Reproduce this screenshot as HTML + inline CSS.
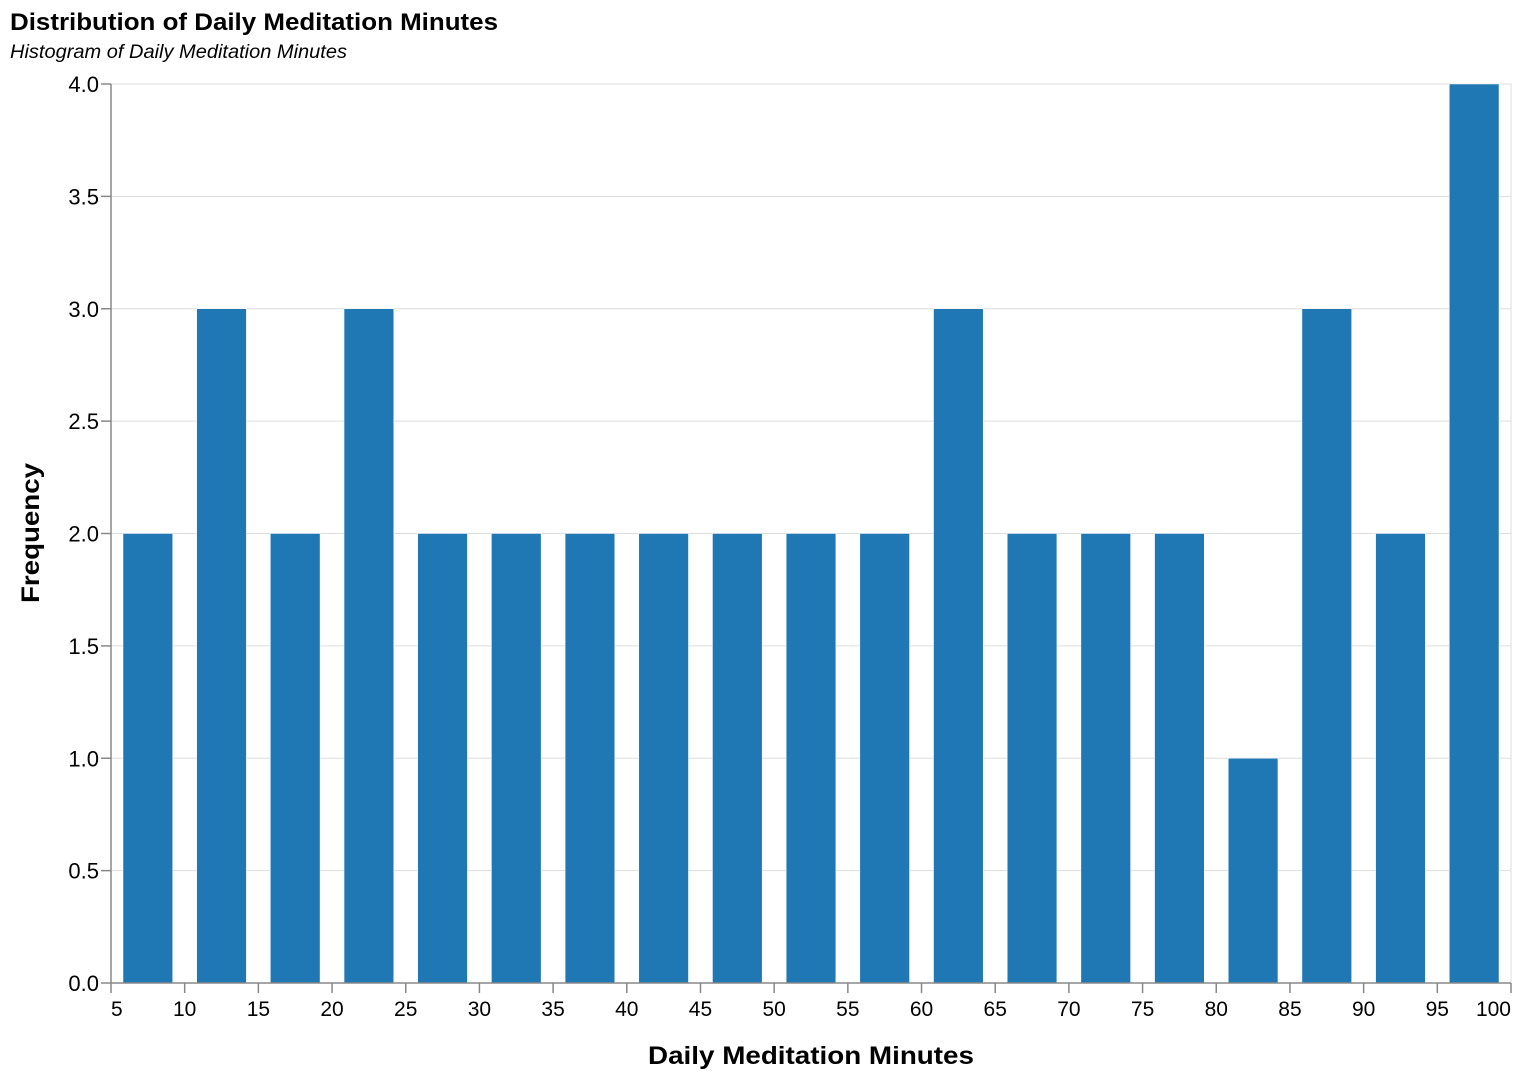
<!DOCTYPE html>
<html><head><meta charset="utf-8"><style>
body{margin:0;background:#fff}
svg text{font-family:"Liberation Sans",Arial,sans-serif}
</style></head><body>
<svg id="chart" width="1522" height="1080">
<text x="10" y="30" font-size="24" font-weight="bold" fill="#000" textLength="488" lengthAdjust="spacingAndGlyphs">Distribution of Daily Meditation Minutes</text>
<text x="10" y="58" font-size="19" font-style="italic" fill="#000" textLength="337" lengthAdjust="spacingAndGlyphs">Histogram of Daily Meditation Minutes</text>
<g id="grid"></g>
<g id="bars"></g>
<g id="axes"></g>
<text transform="translate(39,533) rotate(-90)" text-anchor="middle" font-size="25" font-weight="bold" textLength="140" lengthAdjust="spacingAndGlyphs">Frequency</text>
<text x="811" y="1064" text-anchor="middle" font-size="25" font-weight="bold" textLength="326" lengthAdjust="spacingAndGlyphs">Daily Meditation Minutes</text>
</svg>
<script>
const binStarts=[5,10,15,20,25,30,35,40,45,50,55,60,65,70,75,80,85,90,95];
const counts=[2,3,2,3,2,2,2,2,2,2,2,3,2,2,2,1,3,2,4];
const xTicks=[5,10,15,20,25,30,35,40,45,50,55,60,65,70,75,80,85,90,95,100];
const yTicks=[0,0.5,1,1.5,2,2.5,3,3.5,4];
const binWidth=5;
const X0=111,X1=1511,Y0=983,Y1=84;
const xs=v=>X0+(v-5)/(100-5)*(X1-X0);
const ys=v=>Y0-v/4*(Y0-Y1);
const NS='http://www.w3.org/2000/svg';
function mk(tag,attrs,parent,text){const e=document.createElementNS(NS,tag);for(const k in attrs)e.setAttribute(k,attrs[k]);if(text!==undefined)e.textContent=text;parent.appendChild(e);return e;}
const grid=document.getElementById('grid'),bars=document.getElementById('bars'),axes=document.getElementById('axes');
mk('rect',{x:X0,y:Y1,width:X1-X0,height:Y0-Y1,fill:'none',stroke:'#ddd'},grid);
yTicks.forEach(t=>{
  const l=mk('line',{x1:X0,x2:X1,y1:ys(t),y2:ys(t),stroke:'#ddd'},grid);
  
  
  mk('line',{x1:X0-10,x2:X0,y1:ys(t),y2:ys(t),stroke:'#888','stroke-width':1.5},axes);
  const tx=mk('text',{x:X0-12,y:ys(t)+8,'text-anchor':'end','font-size':22},axes,t.toFixed(1));
  
  
});
binStarts.forEach((b,i)=>{
  const x=xs(b)+12,w=xs(b+binWidth)-xs(b)-24;
  const r=mk('rect',{x:x,y:ys(counts[i]),width:w,height:ys(0)-ys(counts[i]),fill:'#1f77b4',stroke:'#fff','stroke-width':0.5},bars);
  
  
});
mk('line',{x1:X0,x2:X0,y1:Y1,y2:Y0,stroke:'#888','stroke-width':1.5},axes);
mk('line',{x1:X0,x2:X1,y1:Y0,y2:Y0,stroke:'#888','stroke-width':1.5},axes);
xTicks.forEach((t,i)=>{
  mk('line',{x1:xs(t),x2:xs(t),y1:Y0,y2:Y0+10,stroke:'#888','stroke-width':1.5},axes);
  const anchor=i===0?'start':(i===xTicks.length-1?'end':'middle');
  const tx=mk('text',{x:xs(t),y:Y0+33,'text-anchor':anchor,'font-size':21},axes,String(t));
  
  
});
</script>
</body></html>
